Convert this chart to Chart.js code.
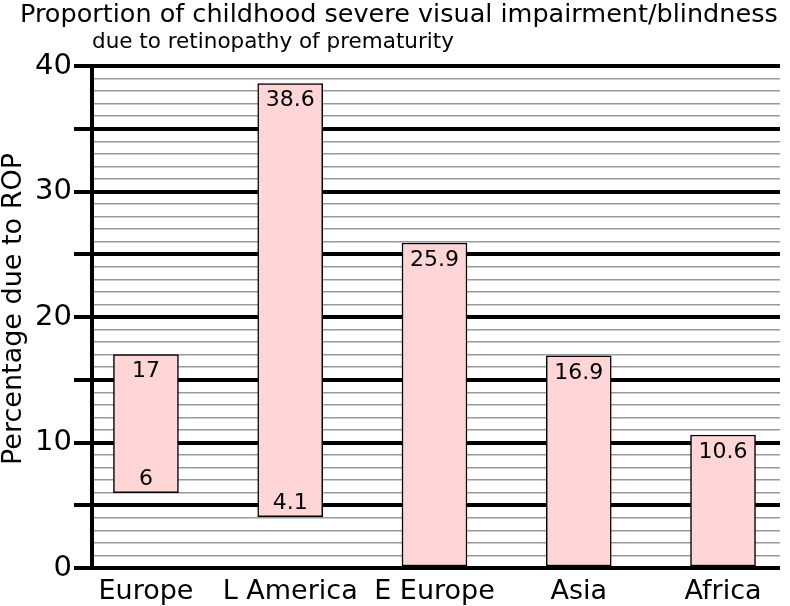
<!DOCTYPE html><html><head><meta charset="utf-8">
<script src="https://cdn.jsdelivr.net/npm/chart.js@4"></script>
<style>body{margin:0;background:#fff}#w{width:790px;height:606px}</style></head><body><div id="w"><canvas id="c"></canvas></div>
<script>
const categories=["Europe","L America","E Europe","Asia","Africa"];
const lowValues=[6,4.1,0,0,0];
const highValues=[17,38.6,25.9,16.9,10.6];
const yTicks=[0,10,20,30,40];
const F="DejaVu Sans";
const data=categories.map((c,i)=>({x:i,y:[lowValues[i],highValues[i]]}));
const labelsPlugin={id:'lbl',afterDatasetsDraw(ch){
 const ctx=ch.ctx;const meta=ch.getDatasetMeta(0);
 ctx.save();ctx.fillStyle='#000';ctx.font='22px "'+F+'"';ctx.textAlign='center';ctx.textBaseline='middle';
 meta.data.forEach((b,i)=>{
  const top=Math.min(b.y,b.base),bot=Math.max(b.y,b.base);
  ctx.fillText(String(highValues[i]),b.x,top+17);
  if(lowValues[i]>0)ctx.fillText(String(lowValues[i]),b.x,bot-13);
 });
 ctx.font='25.5px "'+F+'"';ctx.textAlign='left';ctx.textBaseline='alphabetic';
 ctx.fillText('Proportion of childhood severe visual impairment/blindness',20,22);
 ctx.font='21.5px "'+F+'"';
 ctx.fillText('due to retinopathy of prematurity',92,48);
 ctx.translate(14,309);ctx.rotate(-Math.PI/2);ctx.textAlign='center';ctx.textBaseline='middle';
 ctx.font='27px "'+F+'"';ctx.fillText('Percentage due to ROP',0,0);
 ctx.restore();
}};
new Chart(document.getElementById('c'),{type:'bar',
 data:{datasets:[{data:data,backgroundColor:'#ffd5d5',borderColor:'#000',borderWidth:1.5,borderSkipped:false,barThickness:65}]},
 options:{responsive:true,maintainAspectRatio:false,animation:false,
  layout:{padding:{top:66,right:10,left:0,bottom:0}},
  plugins:{legend:{display:false},tooltip:{enabled:false}},
  scales:{
   x:{type:'linear',offset:false,min:-0.374,max:4.395,
    afterBuildTicks:s=>{s.ticks=categories.map((c,i)=>({value:i}));},
    afterFit:s=>{s.height=38;},
    grid:{display:false,offset:false},border:{display:false},
    ticks:{color:'#000',font:{family:F,size:27},padding:0,maxRotation:0,autoSkip:false,callback:v=>categories[v]}},
   y:{min:0,max:40,
    afterBuildTicks:s=>{const t=[];for(let v=0;v<=40;v++)t.push({value:v});s.ticks=t;},
    afterFit:s=>{s.width=92;},
    border:{display:true,color:'#000',width:4},
    grid:{color:c=>c.tick.value%5===0?'#000':'#999',lineWidth:c=>c.tick.value%5===0?4:1.5,
      tickColor:c=>c.tick.value%5===0?'#000':'rgba(0,0,0,0)',tickLength:18,drawTicks:true},
    ticks:{color:'#000',font:{family:F,size:29},padding:2,autoSkip:false,callback:v=>yTicks.includes(v)?String(v):''}}
  }},
 plugins:[labelsPlugin]});
</script></body></html>
